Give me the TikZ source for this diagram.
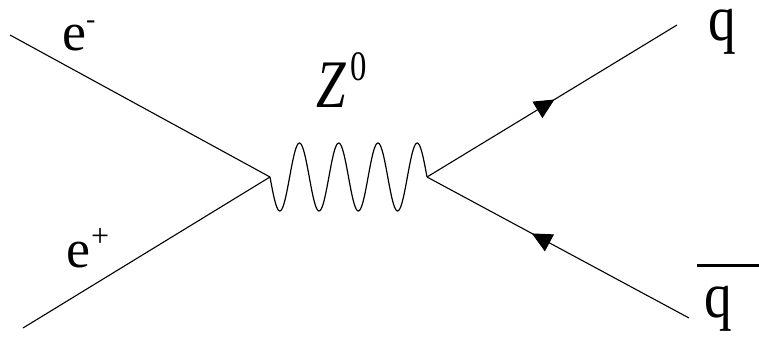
\documentclass[tikz,border=0pt]{standalone}
\usepackage{fontspec}
\setmainfont{Liberation Serif}
\newfontfamily\timesfont{Liberation Serif}
\usepackage{graphicx}
\usetikzlibrary{arrows.meta,decorations.markings}
\newcommand{\charge}[2]{\raisebox{21pt}{\fontsize{#1}{#1}\selectfont #2}}

\begin{document}
\begin{tikzpicture}[
  x=1pt, y=-1pt,
  fermion/.style={line width=1.1pt},
  arrowat/.style={postaction={decorate}, decoration={markings,
    mark=at position #1 with {\arrow{Triangle[length=20pt,width=19pt]}}}},
  boson/.style={line width=1.2pt},
  lbl/.style={inner sep=0pt, anchor=base west, font=\timesfont\fontsize{54}{54}\selectfont},
  qlbl/.style={inner sep=0pt, anchor=base west, font=\timesfont\fontsize{65}{65}\selectfont}
]
\useasboundingbox (0,0) rectangle (759,337);
\coordinate (vl) at (270,177);
\coordinate (vr) at (427,177);
\coordinate (em-end) at (10,35);
\coordinate (ep-end) at (23,328);
\coordinate (q-end) at (677,25);
\coordinate (qb-end) at (689,318);
\node[lbl] (em) at (62,50) {e\charge{28}{-}};
\node[lbl] (ep) at (66,267) {e\kern1pt\charge{32}{+}};
\node[lbl] (zlbl) at (316,107) {\scalebox{0.78}[1]{\fontsize{68}{68}\selectfont\itshape Z\kern6pt\raisebox{27pt}{\fontsize{42}{42}\selectfont\upshape 0}}};
\node[qlbl] (q) at (708,41) {\scalebox{0.85}[1]{q}};
\node[qlbl] (qb) at (704,317) {\scalebox{0.85}[1]{q}};
\draw[line width=2.2pt] ([shift={(-7pt,20pt)}]qb.north west) -- ++(70,0);
\draw[fermion] (em-end) -- (vl);
\draw[fermion] (ep-end) -- (vl);
\draw[boson, shift={(vl)}] plot[domain=0:4, samples=161, smooth] ({39.25*\x}, {34*sin(360*\x)});
\draw[fermion, arrowat=0.51] (vr) -- (q-end);
\draw[fermion, arrowat=0.6] (qb-end) -- (vr);
\end{tikzpicture}
\end{document}
